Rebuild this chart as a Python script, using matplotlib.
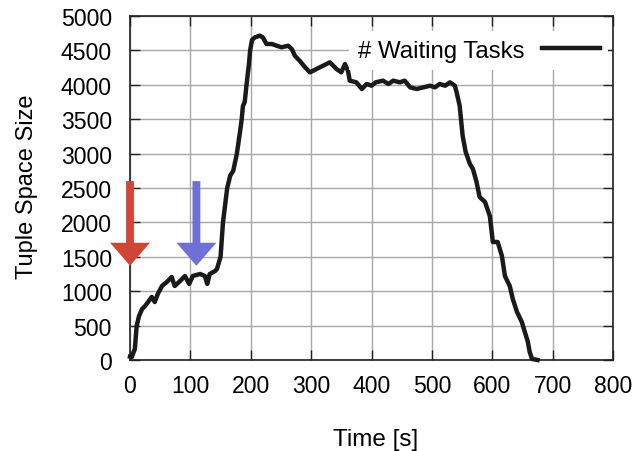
import matplotlib
matplotlib.use("Agg")
import matplotlib.pyplot as plt

plt.rcParams["font.family"] = ["Liberation Sans", "DejaVu Sans"]

# time [s] and number of waiting tasks
time_s = [0, 3, 8, 11, 15, 20, 25, 30, 36, 41, 46, 53, 61, 69, 74, 83, 91, 98, 104, 116,
          124, 128, 132, 141, 144, 150, 154, 161, 166, 171, 177, 182, 185, 187, 190, 193,
          197, 199, 202, 207, 215, 220, 226, 235, 243, 251, 262, 268, 273, 281, 290, 298,
          309, 320, 331, 342, 350, 356, 361, 364, 375, 384, 392, 400, 407, 419, 428, 436,
          447, 455, 464, 475, 486, 497, 505, 513, 522, 530, 538, 541, 546, 551, 556, 563,
          568, 574, 579, 588, 596, 601, 609, 616, 621, 629, 634, 641, 649, 654, 659, 662,
          666, 675]
waiting = [50, 44, 160, 494, 640, 741, 785, 843, 916, 843, 959, 1076, 1134, 1206, 1076,
           1148, 1221, 1105, 1221, 1250, 1221, 1105, 1250, 1294, 1323, 1500, 2000, 2500,
           2680, 2750, 3000, 3300, 3500, 3690, 3750, 4000, 4300, 4500, 4650, 4690, 4714,
           4690, 4593, 4593, 4568, 4545, 4568, 4520, 4423, 4350, 4254, 4181, 4230, 4278,
           4327, 4230, 4181, 4302, 4205, 4060, 4036, 3939, 4012, 3987, 4036, 4060, 4012,
           4060, 4036, 4060, 3963, 3939, 3963, 3987, 3963, 4012, 3987, 4036, 3987, 3890,
           3697, 3256, 3023, 2849, 2776, 2587, 2369, 2297, 2093, 1715, 1715, 1512, 1221,
           1076, 887, 698, 552, 407, 262, 116, 15, 0]

x_ticks = [0, 100, 200, 300, 400, 500, 600, 700, 800]
y_ticks = [0, 500, 1000, 1500, 2000, 2500, 3000, 3500, 4000, 4500, 5000]

# event markers: (time, top, tip, colour)
events_t = [0, 110]
event_colors = ["#d04636", "#6f6fd6"]
arrow_top = 2600
arrow_tip = 1370

fig = plt.figure(figsize=(6.39, 4.52), dpi=100)
ax = fig.add_axes([130 / 639, 1 - 361 / 452, 483 / 639, 344 / 452])

ax.plot(time_s, waiting, color="#1a1a1a", linewidth=3.2, label="# Waiting Tasks",
        clip_on=False, zorder=4)

for t, c in zip(events_t, event_colors):
    ax.arrow(t, arrow_top, 0, arrow_tip - arrow_top, width=13, head_width=66,
             head_length=334, length_includes_head=True, color=c,
             linewidth=0, clip_on=False, zorder=6)

ax.set_xlim(0, 800)
ax.set_ylim(0, 5000)
ax.set_xticks(x_ticks)
ax.set_yticks(y_ticks)
ax.grid(True, color="#a8a8a8", linewidth=1.0)
ax.set_axisbelow(True)

ax.tick_params(axis="both", direction="in", length=7.5, width=1.0, labelsize=16.6,
               top=True, right=True, color="#222222")
ax.tick_params(axis="y", pad=13)
ax.tick_params(axis="x", pad=10)
for s in ax.spines.values():
    s.set_linewidth(1.2)
    s.set_color("#222222")

ax.set_xlabel("Time [s]", fontsize=17.5)
ax.set_ylabel("Tuple Space Size", fontsize=17)
ax.xaxis.set_label_coords(0.509, -0.198)
ax.yaxis.set_label_coords(-0.19, 0.506)

leg = ax.legend(loc="upper right", bbox_to_anchor=(0.99, 0.955), fontsize=17.3,
                markerfirst=False, handlelength=2.4, handletextpad=0.75,
                borderaxespad=0, borderpad=0.35, fancybox=False, framealpha=1)
leg.get_frame().set_edgecolor("white")
leg.get_frame().set_linewidth(0)

fig.savefig("out.png", dpi=100)
